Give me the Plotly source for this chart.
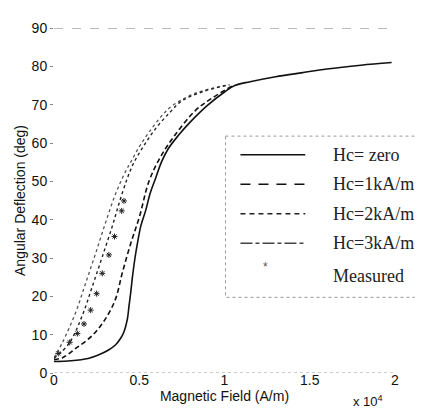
import plotly.graph_objects as go

# ---- data (Magnetic field in A/m, deflection in degrees) ----
zero_x = [0, 1000, 2000, 2600, 3200, 3600, 3900, 4100, 4300, 4400, 4500, 4600, 4750, 4900, 5100, 5370,
          5650, 5960, 6300, 6700, 7300, 8000, 9000, 10000, 10600, 11500, 13000, 14500, 16000, 18000, 19800]
zero_y = [3, 3.2, 3.8, 4.7, 6, 7.3, 9, 10.7, 14, 17.5, 21, 25, 30, 34, 38.5, 42.3,
          47, 50.8, 55, 58.5, 62, 65.5, 69.8, 73.3, 75, 76, 77.3, 78.3, 79.3, 80.3, 81]

hc1_x = [0, 500, 1270, 2250, 3000, 3600, 4000, 4500, 5000, 5570, 6200, 7000, 8300, 9200, 10500]
hc1_y = [3.5, 4, 6.4, 9.8, 14, 19.2, 26, 33.8, 40.6, 50, 56, 61.5, 68.5, 71.5, 75]

hc2_x = [0, 880, 1660, 2250, 2830, 3400, 3800, 4300, 4700, 5300, 6000, 6800, 7500, 8800, 10300]
hc2_y = [3.8, 7.7, 15, 22.6, 30.3, 38, 44, 50.8, 55, 59.5, 64, 68, 71, 73.5, 75.2]

hc3_x = [0, 500, 1270, 1860, 2440, 3000, 3600, 4200, 4500, 5000, 5570, 6300, 6930, 8300, 10250]
hc3_y = [4, 8, 15.8, 23.5, 31.2, 38.9, 46.6, 52.6, 55, 59, 62.8, 67, 69.7, 73, 75.2]

meas_x = [250, 920, 1370, 1760, 2150, 2500, 2830, 3220, 3550, 3970, 4100]
meas_y = [5.1, 8, 10.3, 12.8, 16.4, 20.7, 26, 30.8, 35.6, 42.3, 44.9]

x_tickvals = [0, 5000, 10000, 15000, 20000]
x_ticktext = ["0", "0.5", "1", "1.5", "2"]
y_tickvals = [0, 10, 20, 30, 40, 50, 60, 70, 80, 90]

legend_labels = ["Hc= zero", "Hc=1kA/m", "Hc=2kA/m", "Hc=3kA/m", "Measured"]

SANS = "Liberation Sans, Arial, sans-serif"
SERIF = "Liberation Serif, Times New Roman, serif"

fig = go.Figure()
fig.add_trace(go.Scatter(x=hc3_x, y=hc3_y, mode="lines", line=dict(color="#555", width=1.3, dash="dot"),
                         line_shape="spline"))
fig.add_trace(go.Scatter(x=hc2_x, y=hc2_y, mode="lines", line=dict(color="#222", width=1.4, dash="3px,3px"),
                         line_shape="spline"))
fig.add_trace(go.Scatter(x=hc1_x, y=hc1_y, mode="lines", line=dict(color="#111", width=1.6, dash="5px,3px"),
                         line_shape="spline"))
fig.add_trace(go.Scatter(x=zero_x, y=zero_y, mode="lines", line=dict(color="#111", width=1.6),
                         line_shape="spline"))
fig.add_trace(go.Scatter(x=meas_x, y=meas_y, mode="markers",
                         marker=dict(symbol="asterisk-open", size=5, color="#222",
                                     line=dict(color="#222", width=1))))

# faint box lines at top (90) and bottom (0)
fig.add_shape(type="line", xref="x", yref="y", x0=0, x1=20000, y0=90, y1=90,
              line=dict(color="#777", width=1, dash="dash"))
fig.add_shape(type="line", xref="x", yref="y", x0=0, x1=20000, y0=0, y1=0,
              line=dict(color="#999", width=1, dash="dot"))

# ---- manual legend (paper coords) ----
W, H = 423, 409
L, R, T, B = 45, 36, 14, 44
pw, ph = W - L - R, H - T - B


def px(xp):
    return (xp - L) / pw


def py(yp):
    return 1 - (yp - T) / ph


fig.add_shape(type="rect", xref="paper", yref="paper", x0=px(217), x1=px(421), y0=py(124), y1=py(288),
              line=dict(color="#999", width=1, dash="dot"), fillcolor="white", layer="above")

rows = [143, 173, 203, 233, 266]
styles = [dict(color="#111", width=1.6), dict(color="#111", width=1.6, dash="10px,8px"),
          dict(color="#222", width=1.4, dash="5px,4px"), dict(color="#444", width=1.3, dash="12px,3px,4px,3px")]
for i, yrow in enumerate(rows):
    if i < 4:
        fig.add_shape(type="line", xref="paper", yref="paper", x0=px(232), x1=px(297),
                      y0=py(yrow), y1=py(yrow), line=styles[i], layer="above")
    else:
        fig.add_annotation(xref="paper", yref="paper", x=px(257), y=py(yrow), text="*",
                           showarrow=False, font=dict(family=SANS, size=12, color="#555"))
    fig.add_annotation(xref="paper", yref="paper", x=px(323), y=py(yrow), text=legend_labels[i],
                       xanchor="left", yanchor="middle", showarrow=False,
                       font=dict(family=SERIF, size=18, color="#222"))

# x 10^4 exponent label
fig.add_annotation(xref="paper", yref="paper", x=px(343), y=py(393), text="x 10<sup>4</sup>",
                   xanchor="left", yanchor="middle", showarrow=False,
                   font=dict(family=SANS, size=13, color="#111"))

fig.update_layout(
    width=W, height=H,
    margin=dict(l=L, r=R, t=T, b=B),
    paper_bgcolor="white", plot_bgcolor="white",
    showlegend=False,
    font=dict(family=SANS, size=14, color="#111"),
    xaxis=dict(range=[0, 20000], tickvals=x_tickvals, ticktext=x_ticktext, showgrid=False, zeroline=False,
               showline=False, ticks="", tickfont=dict(size=14), ticklabelstandoff=-3,
               title=dict(text="Magnetic Field (A/m)", font=dict(size=14), standoff=0)),
    yaxis=dict(range=[0, 90], tickvals=y_tickvals, showgrid=False, zeroline=False, showline=False,
               ticks="outside", ticklen=3, tickcolor="#888", tickfont=dict(size=14),
               title=dict(text="Angular Deflection (deg)", font=dict(size=14), standoff=2)),
)

fig.write_html("out.html")
